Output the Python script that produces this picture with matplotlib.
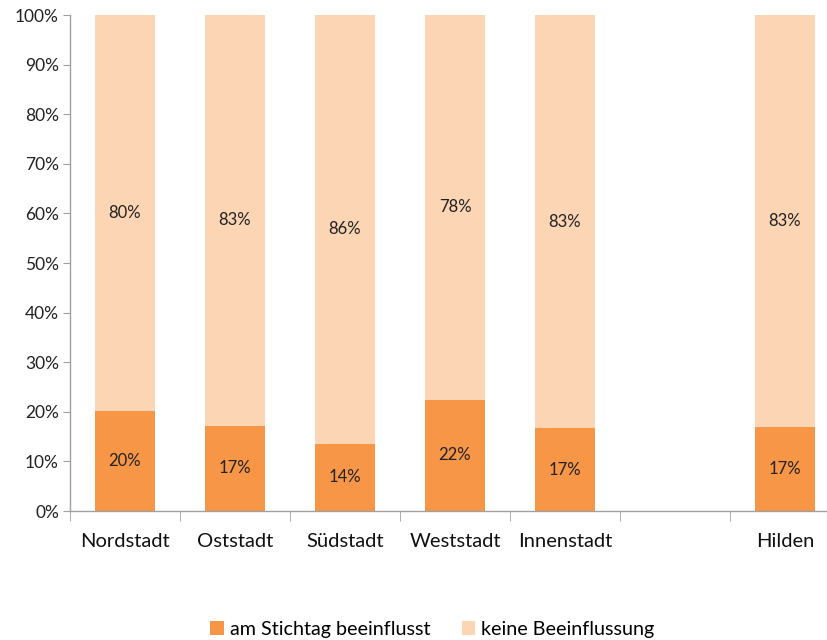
import matplotlib
matplotlib.use("Agg")
import matplotlib.pyplot as plt
import numpy as np

categories = ["Nordstadt", "Oststadt", "Südstadt", "Weststadt", "Innenstadt", "", "Hilden"]
beeinflusst = [20.1, 17.2, 13.6, 22.4, 16.7, np.nan, 17.0]
keine = [79.9, 82.8, 86.4, 77.6, 83.3, np.nan, 83.0]
series_names = ["am Stichtag beeinflusst", "keine Beeinflussung"]
colors = ["#F79646", "#FCD5B5"]

plt.rcParams['font.family'] = ['Lato', 'DejaVu Sans']

fig = plt.figure(figsize=(8.28, 6.4), dpi=100)
ax = fig.add_axes([70/828, 129/640, 770/828, 496/640])

x = np.arange(len(categories))
w = 0.55
b1 = ax.bar(x, beeinflusst, w, color=colors[0], label=series_names[0])
b2 = ax.bar(x, keine, w, bottom=beeinflusst, color=colors[1], label=series_names[1])

for i in range(len(categories)):
    if np.isnan(beeinflusst[i]):
        continue
    ax.text(x[i], beeinflusst[i] / 2, f"{round(beeinflusst[i]):.0f}%", ha="center", va="center", fontsize=12, color="#222222")
    ax.text(x[i], beeinflusst[i] + keine[i] / 2, f"{round(keine[i]):.0f}%", ha="center", va="center", fontsize=12, color="#222222")

ax.set_xlim(-0.5, len(categories) - 0.5)
ax.set_ylim(0, 100)
ax.set_yticks(np.arange(0, 101, 10))
ax.set_yticklabels([f"{v}%" for v in range(0, 101, 10)], fontsize=12.5, color="#222222")

ax.set_xticks(x)
ax.set_xticklabels(categories, fontsize=14.5, color="#111111")
ax.tick_params(axis="x", length=0, pad=16)
ax.set_xticks(np.arange(-0.5, len(categories) + 0.5, 1), minor=True)
ax.tick_params(axis="x", which="minor", length=7, color="#A0A0A0", direction="out")
ax.tick_params(axis="y", length=5, color="#A0A0A0", pad=3)

for s in ["top", "right"]:
    ax.spines[s].set_visible(False)
for s in ["left", "bottom"]:
    ax.spines[s].set_color("#A0A0A0")
    ax.spines[s].set_linewidth(1)

fig.legend(handles=[b1, b2], labels=series_names, loc="center", bbox_to_anchor=(0.522, 0.017),
           ncol=2, frameon=False, fontsize=14.2, handlelength=0.7, handleheight=0.7,
           handletextpad=0.3, columnspacing=1.6)

fig.savefig("out.png", dpi=100)
